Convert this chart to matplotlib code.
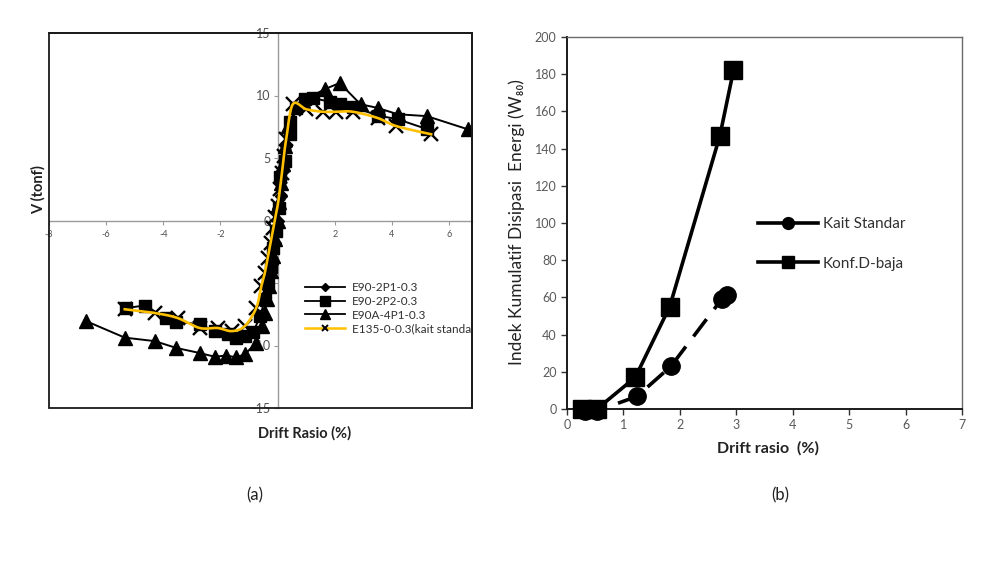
import numpy as np
import matplotlib
matplotlib.use("Agg")
import matplotlib.pyplot as plt
from matplotlib.lines import Line2D
from matplotlib.patches import Rectangle

plt.rcParams['font.family'] = ['Lato', 'DejaVu Sans']
plt.rcParams['axes.unicode_minus'] = False

# ---------------- data (a) : hysteresis envelopes ----------------
e90_2p1_x = [-0.50, -0.35, -0.20, -0.10, 0.0, 0.10, 0.20, 0.30]
e90_2p1_y = [-7.5, -5.5, -3.5, -1.8, 0.0, 2.0, 4.0, 6.0]

e90_2p2_x = [-5.29, -4.65, -3.90, -3.54, -2.73, -2.20, -1.74, -1.44, -1.15, -0.85,
             -0.60, -0.45, -0.35, -0.25, -0.15, -0.05, 0.05, 0.07, 0.25, 0.42,
             0.42, 0.65, 0.94, 1.23, 1.82, 2.17, 2.63, 3.50, 4.20, 5.24]
e90_2p2_y = [-7.0, -6.8, -7.8, -8.1, -8.3, -8.85, -9.1, -9.4, -9.2, -8.9,
             -7.6, -6.3, -5.0, -3.7, -2.2, -0.8, 1.0, 3.5, 4.8, 6.9,
             7.9, 9.0, 9.7, 9.8, 9.5, 9.3, 9.1, 8.4, 8.1, 7.3]

e90a_4p1_x = [-6.70, -5.35, -4.30, -3.54, -2.73, -2.20, -1.80, -1.44, -1.15, -0.75,
              -0.55, -0.45, -0.38, -0.30, -0.22, -0.15, -0.08, 0.0, 0.06, 0.12,
              0.18, 0.25, 0.35, 0.88, 1.64, 2.17, 2.90, 3.51, 4.20, 5.22, 6.65]
e90a_4p1_y = [-8.05, -9.37, -9.65, -10.2, -10.6, -10.9, -10.8, -10.95, -10.7, -9.8,
              -8.4, -7.4, -6.3, -5.2, -4.0, -2.8, -1.5, 0.0, 1.5, 3.0,
              4.5, 6.0, 7.6, 9.55, 10.5, 11.0, 9.3, 9.0, 8.5, 8.35, 7.3]

e135_x = [-5.35, -4.30, -3.50, -2.73, -2.10, -1.60, -1.15, -0.75, -0.57, -0.45,
          -0.35, -0.25, -0.15, -0.08, 0.0, 0.08, 0.15, 0.22, 0.30, 0.53,
          1.00, 1.58, 2.05, 2.63, 3.50, 4.15, 5.37]
e135_y = [-7.1, -7.4, -7.8, -8.6, -8.6, -8.85, -8.45, -7.0, -5.25, -4.2,
          -3.0, -1.8, -0.6, 0.3, 1.2, 2.5, 3.8, 5.2, 6.5, 9.3,
          8.9, 8.7, 8.7, 8.7, 8.2, 7.55, 6.9]

labels_a = ['E90-2P1-0.3', 'E90-2P2-0.3', 'E90A-4P1-0.3', 'E135-0-0.3(kait standar)']
xticks_a = [-8, -6, -4, -2, 0, 2, 4, 6]
yticks_a = [-15, -10, -5, 0, 5, 10, 15]

# ---------------- data (b) : cumulative energy dissipation ----------------
kait_drift = [0.32, 0.53, 1.24, 1.84, 2.74, 2.83]
kait_w = [-1.0, -1.0, 6.8, 22.9, 59.0, 61.5]
baja_drift = [0.27, 0.53, 1.21, 1.82, 2.71, 2.95]
baja_w = [0.0, 0.0, 17.0, 55.0, 147.0, 182.0]
labels_b = ['Kait Standar', 'Konf.D-baja']
xticks_b = [0, 1, 2, 3, 4, 5, 6, 7]
yticks_b = [0, 20, 40, 60, 80, 100, 120, 140, 160, 180, 200]


def catmull_rom(x, y, n=14):
    P = np.column_stack([x, y]).astype(float)
    P = np.vstack([P[0], P, P[-1]])
    out = []
    t = np.linspace(0, 1, n, endpoint=False)[:, None]
    for i in range(1, len(P) - 2):
        p0, p1, p2, p3 = P[i - 1], P[i], P[i + 1], P[i + 2]
        seg = 0.5 * ((2 * p1) + (-p0 + p2) * t + (2 * p0 - 5 * p1 + 4 * p2 - p3) * t ** 2
                     + (-p0 + 3 * p1 - 3 * p2 + p3) * t ** 3)
        out.append(seg)
    out.append(P[-2][None, :])
    out = np.vstack(out)
    return out[:, 0], out[:, 1]


fig = plt.figure(figsize=(9.9, 5.63), dpi=100)
W, H = 990, 563

# ---------------- panel (a) ----------------
ax = fig.add_axes([49 / W, 1 - 408 / H, (472 - 49) / W, (408 - 33) / H])
ax.set_xlim(-8, 6.8)
ax.set_ylim(-15, 15)
ax.set_axisbelow(True)

for s in ['left', 'bottom']:
    ax.spines[s].set_position(('data', 0))
    ax.spines[s].set_color('#9a9a9a')
    ax.spines[s].set_linewidth(1.0)
    ax.spines[s].set_zorder(0.5)
for s in ['top', 'right']:
    ax.spines[s].set_color('#1a1a1a')
    ax.spines[s].set_linewidth(1.3)
ax.add_patch(Rectangle((0, 0), 1, 1, transform=ax.transAxes, fill=False,
                       edgecolor='#1a1a1a', linewidth=1.3, clip_on=False, zorder=3))

ax.set_xticks(xticks_a)
ax.set_xticklabels(['' if v == 0 else str(v) for v in xticks_a])
ax.set_yticks(yticks_a)
ax.set_yticklabels([str(v) for v in yticks_a])
ax.tick_params(axis='x', labelsize=6.5, colors='#9a9a9a', labelcolor='#505050',
               length=3, width=0.8, direction='out', pad=4)
ax.tick_params(axis='y', labelsize=9, colors='#9a9a9a', labelcolor='#505050',
               length=3, width=0.8, direction='out', pad=2)

ax.plot(e90_2p1_x, e90_2p1_y, color='black', lw=1.4, marker='D', ms=6, zorder=2)
ax.plot(e90_2p2_x, e90_2p2_y, color='black', lw=1.4, marker='s', ms=9, zorder=2)
ax.plot(e90a_4p1_x, e90a_4p1_y, color='black', lw=1.4, marker='^', ms=10, zorder=2)
sx, sy = catmull_rom(e135_x, e135_y)
ax.plot(sx, sy, color='#FFC000', lw=1.9, zorder=3)
ax.plot(e135_x, e135_y, ls='none', marker='x', ms=10, mew=1.7, color='black', zorder=2.5)

h4 = Line2D([], [], color='#FFC000', lw=1.8, marker='x', ms=5, mew=1.4, mec='black')
h1 = Line2D([], [], color='black', lw=1.3, marker='D', ms=4)
h2 = Line2D([], [], color='black', lw=1.3, marker='s', ms=7)
h3 = Line2D([], [], color='black', lw=1.3, marker='^', ms=7)
leg = ax.legend([h1, h2, h3, h4], labels_a, loc='upper left', bbox_to_anchor=(0.605, 0.335),
                frameon=False, fontsize=8.5, handlelength=3.4, handletextpad=0.55,
                labelspacing=0.22, borderpad=0, borderaxespad=0)
for t in leg.get_texts():
    t.set_color('#303030')
    t.set_clip_box(ax.bbox)
    t.set_clip_on(True)

fig.text(38 / W, 1 - 190 / H, 'V (tonf)', rotation=90, ha='center', va='center',
         fontsize=10.5, fontweight='bold', color='#222222')
fig.text(305 / W, 1 - 433 / H, 'Drift Rasio (%)', ha='center', va='center',
         fontsize=10.5, fontweight='bold', color='#222222')
fig.text(255 / W, 1 - 495 / H, '(a)', ha='center', va='center', fontsize=12, color='#222222')

# ---------------- panel (b) ----------------
bx = fig.add_axes([567 / W, 1 - 409 / H, (962 - 567) / W, (409 - 37) / H])
bx.set_xlim(0, 7)
bx.set_ylim(0, 200)
bx.set_xticks(xticks_b)
bx.set_yticks(yticks_b)
bx.tick_params(labelsize=9, colors='#303030', labelcolor='#5a5a5a', length=4,
               width=1.0, direction='out')
for s in ['left', 'bottom']:
    bx.spines[s].set_color('#1a1a1a')
    bx.spines[s].set_linewidth(1.4)
for s in ['top', 'right']:
    bx.spines[s].set_color('#6a6a6a')
    bx.spines[s].set_linewidth(1.0)

kl, = bx.plot(kait_drift, kait_w, color='black', lw=2.6, marker='o', ms=12.5,
              clip_on=False, zorder=3)
kl.set_dashes((6, 3.5))
bx.plot(baja_drift, baja_w, color='black', lw=2.6, marker='s', ms=12.5,
        clip_on=False, zorder=4)

hk = Line2D([], [], color='black', lw=2.6, marker='o', ms=8.5)
hb = Line2D([], [], color='black', lw=2.6, marker='s', ms=8)
bx.legend([hk, hb], labels_b, loc='upper left', bbox_to_anchor=(0.484, 0.515),
          frameon=False, fontsize=11, handlelength=3.9, handletextpad=0.35,
          labelspacing=1.65, borderpad=0, borderaxespad=0, labelcolor='#303030')

fig.text(517 / W, 1 - 222 / H, 'Indek Kumulatif Disipasi  Energi (W\u2088\u2080)', rotation=90,
         ha='center', va='center', fontsize=12.5, color='#222222')
fig.text(768 / W, 1 - 448 / H, 'Drift rasio  (%)', ha='center', va='center',
         fontsize=11.5, fontweight='bold', color='#222222')
fig.text(780 / W, 1 - 495 / H, '(b)', ha='center', va='center', fontsize=12, color='#222222')

fig.savefig('out.png', dpi=100)
